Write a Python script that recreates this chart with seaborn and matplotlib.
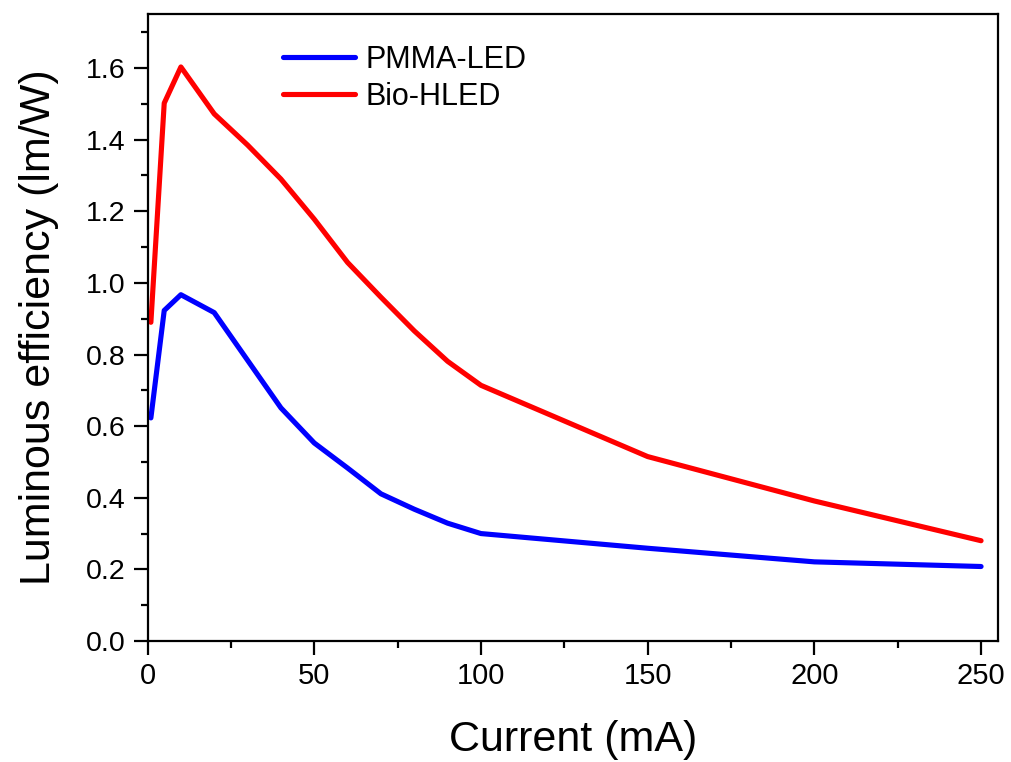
import matplotlib
matplotlib.use("Agg")
import matplotlib.pyplot as plt
from matplotlib.ticker import MultipleLocator, FormatStrFormatter
import numpy as np
import pandas as pd
import seaborn as sns

# Drive current (mA)
current = [1, 5, 10, 20, 30, 40, 50, 60, 70, 80, 90, 100, 150, 200, 250]

# Luminous efficiency (lm/W)
pmma_led = [0.623, 0.923, 0.967, 0.917, 0.784, 0.651, 0.553, 0.483, 0.411,
            0.368, 0.329, 0.300, 0.259, 0.221, 0.208]
bio_hled = [0.890, 1.502, 1.603, 1.472, 1.385, 1.290, 1.178, 1.057, 0.960,
            0.866, 0.781, 0.714, 0.515, 0.391, 0.280]

series_names = ["PMMA-LED", "Bio-HLED"]
series_colors = ["#0000FF", "#FF0000"]

df = pd.concat([
    pd.DataFrame({"Current": current, "Efficiency": pmma_led, "Device": series_names[0]}),
    pd.DataFrame({"Current": current, "Efficiency": bio_hled, "Device": series_names[1]}),
], ignore_index=True)

sns.set_theme(style="ticks")
plt.rcParams["font.family"] = ["Liberation Sans", "DejaVu Sans"]
plt.rcParams["text.color"] = "black"
plt.rcParams["axes.labelcolor"] = "black"

fig = plt.figure(figsize=(10.12, 7.62), dpi=100)
ax = fig.add_axes([0.1458, 0.1588, 0.8401, 0.8224])

sns.lineplot(data=df, x="Current", y="Efficiency", hue="Device",
             palette=dict(zip(series_names, series_colors)),
             linewidth=3.7, ax=ax, legend=False, sort=False)

ax.set_xlim(0, 255)
ax.set_ylim(0, 1.75)
ax.xaxis.set_major_locator(MultipleLocator(50))
ax.xaxis.set_minor_locator(MultipleLocator(25))
ax.yaxis.set_major_locator(MultipleLocator(0.2))
ax.yaxis.set_minor_locator(MultipleLocator(0.1))
ax.yaxis.set_major_formatter(FormatStrFormatter("%.1f"))

for side in ax.spines.values():
    side.set_linewidth(1.6)
    side.set_color("black")

ax.tick_params(axis="both", which="major", direction="out", length=10,
               width=1.6, colors="black", labelcolor="black")
ax.tick_params(axis="both", which="minor", direction="out", length=5,
               width=1.6, colors="black")
ax.tick_params(axis="x", which="major", labelsize=21, pad=5)
ax.tick_params(axis="y", which="major", labelsize=20.5, pad=6)
ax.tick_params(top=False, right=False, which="both")

ax.set_xlabel("Current (mA)", fontsize=31, labelpad=22)
ax.set_ylabel("Luminous efficiency (lm/W)", fontsize=31, labelpad=19)

handles = [plt.Line2D([], [], color=c, lw=3.7) for c in series_colors]
ax.legend(handles, series_names, loc="upper left", bbox_to_anchor=(0.127, 0.995),
          frameon=False, fontsize=22, handlelength=2.36, handletextpad=0.33,
          labelspacing=0.22)

fig.savefig("out.png", dpi=100)
